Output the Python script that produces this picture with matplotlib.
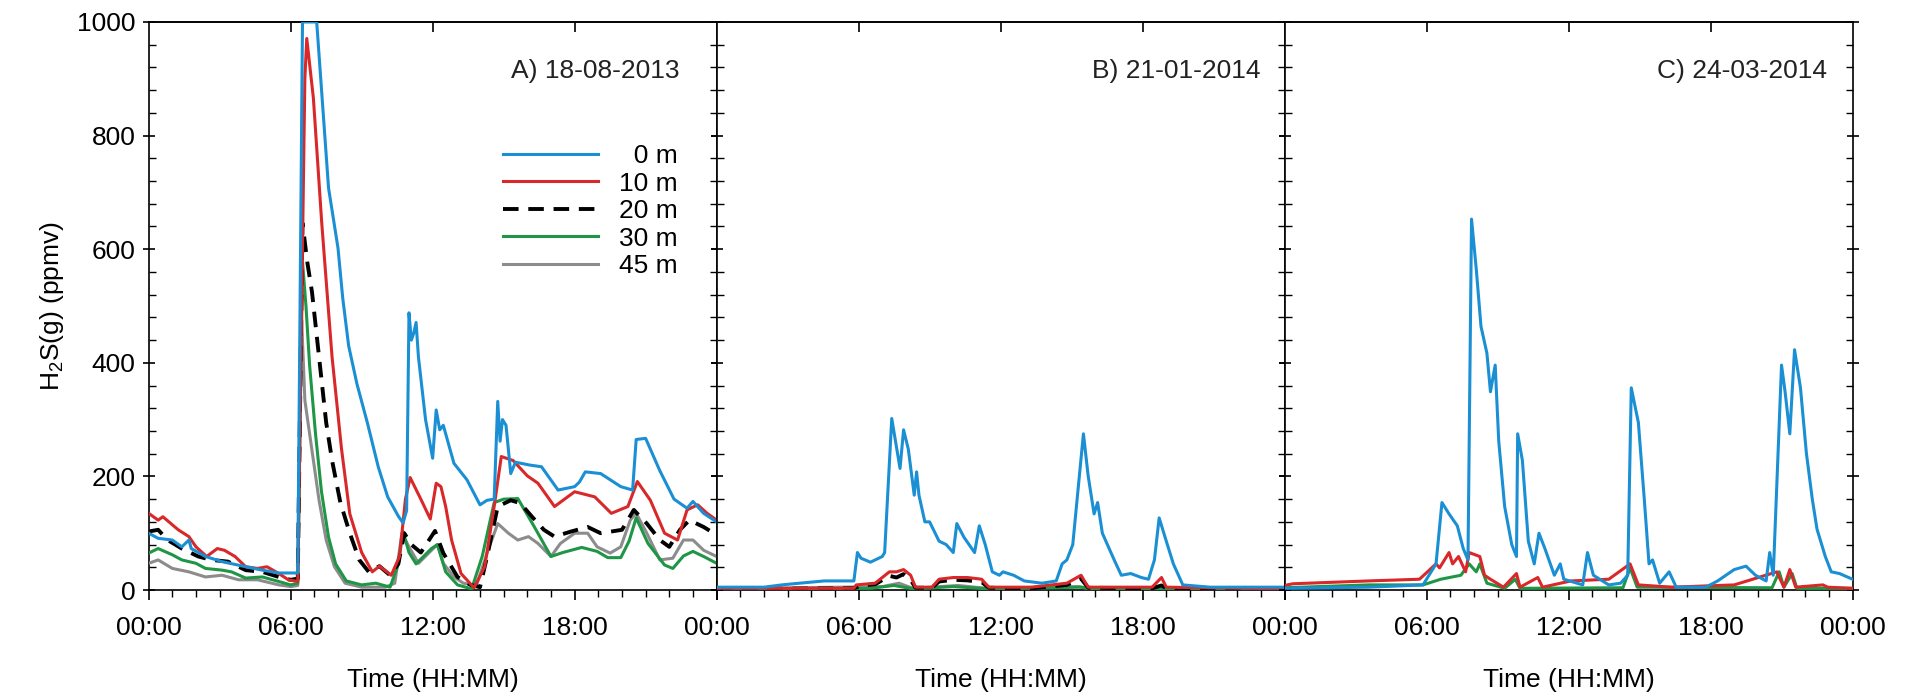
import numpy as np
import matplotlib
matplotlib.use("Agg")
import matplotlib.pyplot as plt
from matplotlib.ticker import MultipleLocator

plt.rcParams['font.family'] = ['Liberation Sans', 'DejaVu Sans']
plt.rcParams['mathtext.default'] = 'regular'
plt.rcParams['font.size'] = 19

# ---- data (hour of day, ppmv) ----
# A) 18-08-2013
a0_h = [0, 0.4, 1.0, 1.4, 1.7, 1.8, 2.4, 3.1, 4.1, 4.8, 5.5, 6.3, 6.5, 7.1, 7.6, 8.0, 8.2, 8.45,
        8.8, 9.25, 9.7, 10.1, 10.55, 10.75, 10.9, 11.0, 11.1, 11.2, 11.3, 11.4, 11.7, 12.0, 12.15,
        12.3, 12.45, 12.9, 13.45, 14.0, 14.3, 14.6, 14.75, 14.85, 14.95, 15.1, 15.3, 15.5, 16.1,
        16.6, 17.3, 18.0, 18.2, 18.45, 19.1, 19.95, 20.45, 20.6, 21.0, 21.6, 22.2, 22.75, 23.0,
        23.45, 24.0]
a0_v = [100, 91, 88, 76, 88, 73, 59, 50, 41, 35, 30, 30, 1000, 1000, 708, 602, 514, 430,
        363, 293, 217, 164, 130, 118, 140, 488, 440, 452, 471, 410, 300, 232, 317,
        282, 290, 223, 194, 150, 158, 160, 332, 262, 300, 290, 205, 225, 220,
        217, 176, 182, 190, 208, 205, 182, 176, 265, 267, 210, 160, 144, 156,
        135, 120]

a10_h = [0, 0.4, 0.6, 1.25, 1.7, 2.0, 2.45, 2.9, 3.2, 3.65, 4.1, 4.6, 5.0, 5.5, 5.9, 6.3, 6.6,
         6.68, 6.96, 7.31, 7.59, 7.75, 8.15, 8.5, 9.0, 9.45, 9.75, 10.25, 10.6, 10.85, 11.05,
         11.5, 11.9, 12.15, 12.35, 12.55, 12.8, 13.2, 13.75, 14.2, 14.6, 14.9, 15.4, 16.0,
         16.45, 17.15, 18.0, 18.85, 19.55, 20.25, 20.65, 21.2, 21.8, 22.35, 22.75, 23.2,
         23.6, 24.0]
a10_v = [135, 123, 129, 106, 94, 76, 59, 73, 70, 59, 41, 38, 41, 29, 18, 15, 900,
         971, 866, 648, 496, 410, 248, 134, 66, 32, 42, 26, 59, 160, 198,
         160, 125, 188, 182, 147, 88, 29, 4, 41, 147, 235, 228, 201,
         188, 147, 173, 164, 135, 147, 191, 158, 100, 88, 141, 150,
         135, 123]

a20_h = [0, 0.4, 0.8, 1.4, 2.1, 2.65, 3.35, 4.1, 4.8, 5.5, 6.0, 6.3, 6.5, 6.7, 6.9, 7.2, 7.5,
         7.75, 8.1, 8.5, 8.9, 9.3, 9.75, 10.2, 10.55, 10.8, 11.1, 11.5, 12.1, 12.45, 13.05,
         13.6, 14.0, 14.3, 14.75, 15.3, 15.7, 16.2, 16.7, 17.15, 17.85, 18.55, 19.1, 20.0,
         20.5, 21.05, 21.6, 22.0, 22.45, 22.85, 23.45, 24.0]
a20_v = [103, 106, 88, 73, 59, 53, 50, 35, 32, 23, 18, 20, 646, 578, 525, 410, 295,
         228, 154, 100, 53, 32, 42, 26, 46, 100, 80, 66, 104, 65, 23,
         9, 5, 59, 147, 158, 153, 129, 106, 94, 103, 111, 100, 106,
         141, 117, 88, 76, 106, 123, 111, 97]

a30_h = [0, 0.4, 1.0, 1.4, 2.0, 2.4, 3.1, 3.5, 4.1, 4.8, 5.5, 6.0, 6.3, 6.5, 6.65, 6.8, 7.05,
         7.3, 7.6, 7.9, 8.35, 9.0, 9.6, 10.2, 10.55, 10.75, 11.0, 11.3, 11.95, 12.2, 12.55,
         13.05, 13.65, 14.1, 14.6, 15.0, 15.6, 16.3, 17.0, 17.5, 18.3, 18.95, 19.4, 19.95,
         20.3, 20.6, 21.1, 21.8, 22.15, 22.6, 23.0, 23.5, 24.0]
a30_v = [65, 73, 62, 53, 47, 38, 35, 32, 21, 23, 15, 9, 12, 578, 498, 396, 275,
         174, 93, 46, 16, 9, 12, 5, 46, 103, 66, 46, 73, 80, 32,
         9, 2, 60, 154, 160, 161, 111, 59, 66, 75, 68, 57, 57,
         86, 127, 82, 44, 38, 60, 68, 58, 47]

a45_h = [0, 0.4, 1.0, 1.7, 2.4, 3.1, 3.8, 4.6, 5.5, 6.0, 6.3, 6.45, 6.6, 6.9, 7.2, 7.5, 7.85,
         8.3, 9.0, 10.0, 10.4, 10.7, 11.0, 11.4, 12.0, 12.2, 12.45, 12.9, 13.3, 13.85, 14.3,
         14.75, 15.2, 15.6, 16.05, 16.45, 17.0, 17.4, 18.0, 18.55, 18.95, 19.5, 19.95, 20.35,
         20.6, 21.05, 21.6, 22.15, 22.6, 23.0, 23.45, 24.0]
a45_v = [47, 53, 38, 32, 23, 26, 18, 18, 9, 6, 8, 490, 334, 246, 158, 88, 41,
         12, 5, 5, 12, 100, 76, 47, 72, 80, 47, 23, 12, 8, 65,
         117, 100, 88, 94, 82, 59, 82, 100, 100, 76, 65, 76, 123,
         135, 100, 53, 56, 88, 88, 70, 59]

# B) 21-01-2014
b0_h = [0, 2.0, 2.75, 3.5, 4.55, 5.8, 5.95, 6.1, 6.5, 7.0, 7.1, 7.4, 7.75, 7.9, 8.1, 8.35,
        8.45, 8.55, 8.8, 9.0, 9.4, 9.7, 10.0, 10.15, 10.45, 10.9, 11.1, 11.35, 11.65, 11.95,
        12.1, 12.55, 13.0, 13.75, 14.35, 14.6, 14.8, 15.05, 15.25, 15.5, 15.7, 15.95, 16.1,
        16.3, 16.8, 17.1, 17.5, 17.95, 18.25, 18.5, 18.7, 18.95, 19.3, 19.7, 20.85, 24.0]
b0_v = [5, 5, 9, 12, 16, 16, 66, 56, 49, 59, 66, 302, 214, 282, 248, 167,
        208, 167, 120, 120, 86, 80, 66, 117, 93, 66, 113, 80, 32, 26,
        32, 26, 16, 12, 16, 46, 53, 80, 167, 275, 201, 134, 154,
        100, 53, 26, 29, 22, 19, 53, 127, 93, 46, 9, 5, 5]

b10_h = [0, 5.8, 5.9, 6.7, 7.3, 7.6, 7.9, 8.2, 8.4, 9.1, 9.4, 10.0, 10.6, 11.2, 11.5, 13.3,
         14.8, 15.4, 15.7, 18.4, 18.8, 19.0, 24.0]
b10_v = [3, 3, 9, 12, 32, 32, 36, 26, 5, 5, 19, 22, 22, 19, 5, 5,
         12, 26, 5, 5, 22, 5, 2]

b20_h = [0, 5.8, 6.1, 6.7, 7.3, 7.6, 7.9, 8.2, 8.4, 9.1, 9.4, 10.0, 10.6, 11.2, 11.5, 13.3,
         14.8, 15.4, 15.7, 18.4, 18.8, 19.0, 24.0]
b20_v = [2, 3, 8, 10, 25, 22, 28, 18, 4, 4, 15, 18, 17, 14, 4, 3,
         9, 20, 4, 3, 8, 3, 2]

b30_h = [0, 6.5, 7.5, 8.3, 10.0, 11.5, 15.4, 16.0, 24.0]
b30_v = [1, 3, 8, 2, 6, 2, 5, 1, 1]

b45_h = [0, 7.0, 7.7, 8.3, 10.2, 11.4, 15.3, 15.8, 24.0]
b45_v = [2, 6, 12, 3, 8, 3, 6, 2, 2]

# C) 24-03-2014
c0_h = [0, 3.55, 5.85, 6.4, 6.65, 6.95, 7.3, 7.55, 7.75, 7.9, 8.1, 8.3, 8.55, 8.7, 8.9, 9.05,
        9.3, 9.6, 9.8, 9.85, 10.05, 10.3, 10.55, 10.75, 11.0, 11.4, 11.65, 11.8, 12.6, 12.8,
        13.05, 13.7, 14.2, 14.5, 14.65, 14.95, 15.2, 15.4, 15.55, 15.85, 16.25, 16.55, 17.8,
        18.3, 19.0, 19.5, 19.9, 20.35, 20.5, 20.65, 21.0, 21.15, 21.35, 21.55, 21.8, 22.05,
        22.3, 22.5, 22.85, 23.1, 23.45, 24.0]
c0_v = [3, 5, 9, 46, 154, 134, 113, 73, 53, 653, 565, 464, 417, 349, 396, 262,
        147, 80, 59, 275, 228, 86, 46, 100, 73, 26, 46, 19, 9, 66,
        26, 9, 12, 26, 356, 295, 160, 46, 53, 12, 32, 5, 5,
        16, 36, 42, 26, 16, 66, 26, 396, 349, 275, 423, 356, 241,
        160, 107, 59, 32, 29, 19]

c10_h = [0, 0.35, 3.55, 5.7, 6.4, 6.55, 6.95, 7.1, 7.35, 7.65, 7.8, 8.25, 8.45, 8.7, 9.25,
         9.8, 9.95, 10.7, 10.9, 12.1, 13.7, 14.6, 14.95, 16.35, 19.0, 20.8, 21.1, 21.35,
         21.6, 22.75, 22.95, 24.0]
c10_v = [8, 11, 16, 19, 46, 39, 66, 46, 59, 32, 66, 59, 26, 19, 5,
         29, 5, 22, 5, 16, 19, 46, 9, 5, 9, 32, 5, 36,
         5, 9, 5, 3]

c30_h = [0, 3.55, 5.85, 6.6, 7.45, 7.8, 8.1, 8.25, 8.55, 9.3, 9.75, 9.95, 14.3, 14.6, 14.9,
         20.6, 20.9, 21.1, 21.45, 21.65, 24.0]
c30_v = [4, 9, 9, 19, 26, 46, 32, 46, 12, 3, 19, 3, 4, 39, 5,
         4, 32, 5, 29, 3, 3]

depth_labels = ["  0 m", "10 m", "20 m", "30 m", "45 m"]
panel_titles = ["A) 18-08-2013", "B) 21-01-2014", "C) 24-03-2014"]
hour_ticks = [0, 6, 12, 18, 24]
hour_labels = ["00:00", "06:00", "12:00", "18:00", "00:00"]

blue, red, green, gray = "#1a8fd4", "#d9282a", "#1f9646", "#8c8c8c"
styles = [dict(color=blue, lw=2.2),
          dict(color=red, lw=2.2),
          dict(color="black", lw=2.8, ls=(0, (4, 2.5))),
          dict(color=green, lw=2.2),
          dict(color=gray, lw=2.2)]

fig, axes = plt.subplots(1, 3, sharey=True, figsize=(19.11, 6.98), dpi=100,
                         gridspec_kw=dict(wspace=0))
fig.subplots_adjust(left=0.0778, right=0.9694, top=0.9685, bottom=0.1547)

panels = [
    [(a0_h, a0_v), (a10_h, a10_v), (a20_h, a20_v), (a30_h, a30_v), (a45_h, a45_v)],
    [(b0_h, b0_v), (b10_h, b10_v), (b20_h, b20_v), (b30_h, b30_v), (b45_h, b45_v)],
    [(c0_h, c0_v), (c10_h, c10_v), None, (c30_h, c30_v), None],
]
title_x = [0.935, 0.957, 0.955]

for i, ax in enumerate(axes):
    # draw deepest first so that 0 m ends on top
    for k in [4, 3, 2, 1, 0]:
        s = panels[i][k]
        if s is None:
            continue
        ax.plot(s[0], s[1], label=depth_labels[k], zorder=3 + (5 - k) * 0.1, **styles[k])

    ax.set_xlim(0, 24)
    ax.set_ylim(0, 1000)
    ax.set_xticks(hour_ticks)
    # the shared boundary label is drawn only once (by the panel on its right)
    labels = list(hour_labels)
    if i < 2:
        labels[-1] = ""
    ax.set_xticklabels(labels)
    ax.xaxis.set_minor_locator(MultipleLocator(1))
    ax.yaxis.set_major_locator(MultipleLocator(200))
    ax.yaxis.set_minor_locator(MultipleLocator(40))
    ax.tick_params(axis='x', which='major', direction='out', length=7, width=1.2, pad=12,
                   labelsize=19)
    ax.tick_params(axis='x', which='minor', direction='out', length=5, width=1.0)
    ax.tick_params(axis='y', which='major', direction='inout', length=9, width=1.2,
                   left=True, right=True, labelsize=19, pad=5)
    ax.tick_params(axis='y', which='minor', direction='in', length=5, width=1.0,
                   left=True, right=True)
    top = ax.secondary_xaxis('top')
    top.set_xticks(hour_ticks[1:-1])
    top.tick_params(direction='in', length=7, width=1.2, labeltop=False)
    top.xaxis.set_minor_locator(matplotlib.ticker.NullLocator())
    for sp in ax.spines.values():
        sp.set_linewidth(1.2)
    top.spines['top'].set_linewidth(1.2)

    ax.set_xlabel("Time (HH:MM)", fontsize=19, labelpad=20)
    ax.text(title_x[i], 0.914, panel_titles[i], transform=ax.transAxes,
            ha='right', va='center', fontsize=19, color='#222222')

axes[0].set_ylabel(r"H$_2$S(g) (ppmv)", fontsize=19, labelpad=8)
for ax in axes[1:]:
    ax.tick_params(axis='y', labelleft=False)

handles, labels = axes[0].get_legend_handles_labels()
order = [labels.index(l) for l in depth_labels]
leg = axes[0].legend([handles[j] for j in order], [labels[j] for j in order],
                     loc='upper right', bbox_to_anchor=(0.955, 0.808), frameon=False,
                     handlelength=3.6, handletextpad=0.8, labelspacing=0.13,
                     borderpad=0, fontsize=19)

fig.savefig("out.png", dpi=100)
